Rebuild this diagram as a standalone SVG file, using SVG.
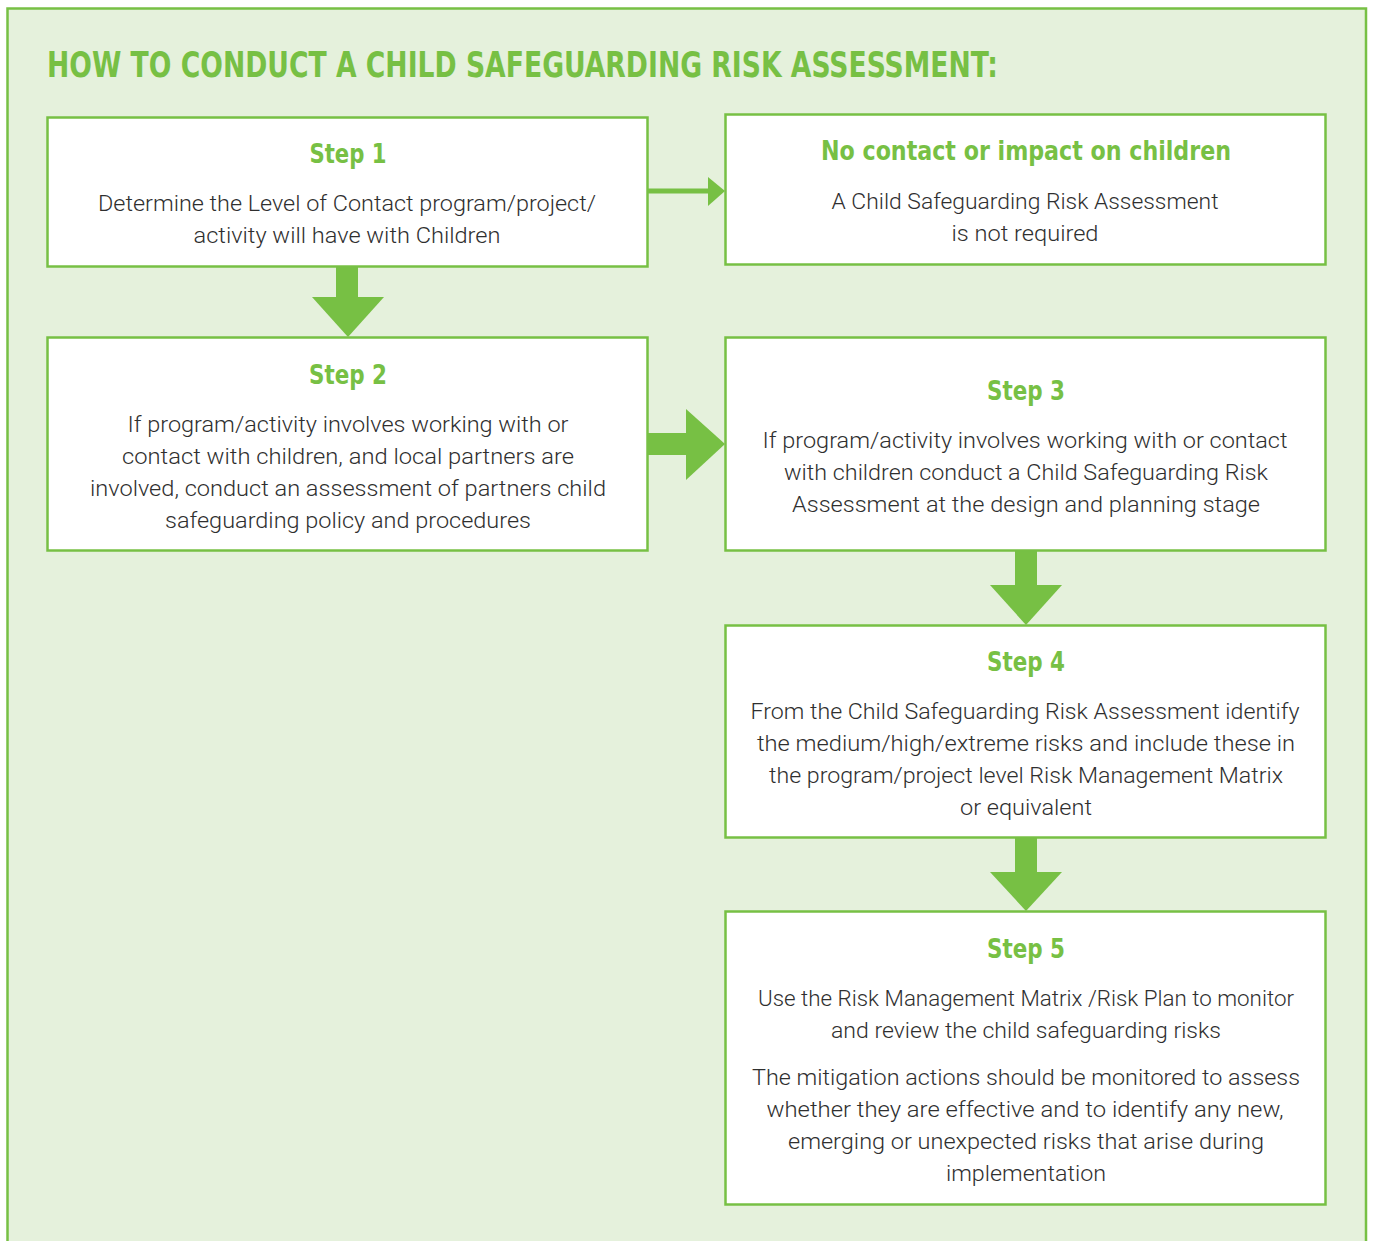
<svg xmlns="http://www.w3.org/2000/svg" width="1375" height="1241" viewBox="0 0 1375 1241">
<style>
.bg{fill:#e5f1dc}
.frame{fill:none;stroke:#77c044;stroke-width:2.5}
.box{fill:#ffffff;stroke:#77c044;stroke-width:2.5}
.arr{fill:#77c044}
.title{font-family:"DejaVu Sans Condensed","DejaVu Sans",sans-serif;font-weight:bold;font-size:35px;fill:#77c044}
.hd{font-family:"DejaVu Sans Condensed","DejaVu Sans",sans-serif;font-weight:bold;font-size:27px;fill:#77c044;text-anchor:middle}
.tx{font-family:Roboto,"Liberation Sans",sans-serif;font-weight:300;font-size:22px;fill:#2f2f2f;text-anchor:middle}
</style>
<rect x="0" y="0" width="1375" height="1241" fill="#ffffff"/>
<rect class="bg" x="7.5" y="8.5" width="1358.5" height="1233"/>
<path class="frame" d="M7.5 1242 V8.5 H1366 V1242"/>
<text class="title" x="47" y="77" textLength="951" lengthAdjust="spacingAndGlyphs">HOW TO CONDUCT A CHILD SAFEGUARDING RISK ASSESSMENT:</text>

<g id="connectors">
  <rect class="arr" x="648" y="188.5" width="62" height="5"/>
  <polygon class="arr" points="708,177 725,191 708,206"/>
  <rect class="arr" x="336" y="267" width="22" height="31"/>
  <polygon class="arr" points="312,297 384,297 348,337"/>
  <rect class="arr" x="648" y="433" width="40" height="22"/>
  <polygon class="arr" points="686,409 725,444 686,480"/>
  <rect class="arr" x="1015" y="551" width="22" height="35"/>
  <polygon class="arr" points="990,585 1062,585 1026,625"/>
  <rect class="arr" x="1015" y="838" width="22" height="35"/>
  <polygon class="arr" points="990,872 1062,872 1026,911"/>
</g>

<g id="step1">
  <rect class="box" x="47.5" y="117.5" width="600" height="149"/>
  <text class="hd" x="348" y="163" textLength="77" lengthAdjust="spacingAndGlyphs">Step 1</text>
  <text class="tx" x="347" y="211" textLength="498" lengthAdjust="spacingAndGlyphs">Determine the Level of Contact program/project/</text>
  <text class="tx" x="347" y="243" textLength="307" lengthAdjust="spacingAndGlyphs">activity will have with Children</text>
</g>

<g id="no-contact">
  <rect class="box" x="725.5" y="114.5" width="600" height="150"/>
  <text class="hd" x="1026" y="160" textLength="410" lengthAdjust="spacingAndGlyphs">No contact or impact on children</text>
  <text class="tx" x="1025" y="209" textLength="387" lengthAdjust="spacingAndGlyphs">A Child Safeguarding Risk Assessment</text>
  <text class="tx" x="1025" y="241" textLength="147" lengthAdjust="spacingAndGlyphs">is not required</text>
</g>

<g id="step2">
  <rect class="box" x="47.5" y="337.5" width="600" height="213"/>
  <text class="hd" x="348" y="384" textLength="78" lengthAdjust="spacingAndGlyphs">Step 2</text>
  <text class="tx" x="348" y="432" textLength="441" lengthAdjust="spacingAndGlyphs">If program/activity involves working with or</text>
  <text class="tx" x="348" y="464" textLength="452" lengthAdjust="spacingAndGlyphs">contact with children, and local partners are</text>
  <text class="tx" x="348" y="496" textLength="516" lengthAdjust="spacingAndGlyphs">involved, conduct an assessment of partners child</text>
  <text class="tx" x="348" y="528" textLength="366" lengthAdjust="spacingAndGlyphs">safeguarding policy and procedures</text>
</g>

<g id="step3">
  <rect class="box" x="725.5" y="337.5" width="600" height="213"/>
  <text class="hd" x="1026" y="400" textLength="78" lengthAdjust="spacingAndGlyphs">Step 3</text>
  <text class="tx" x="1025" y="448" textLength="525" lengthAdjust="spacingAndGlyphs">If program/activity involves working with or contact</text>
  <text class="tx" x="1026" y="480" textLength="484" lengthAdjust="spacingAndGlyphs">with children conduct a Child Safeguarding Risk</text>
  <text class="tx" x="1026" y="512" textLength="468" lengthAdjust="spacingAndGlyphs">Assessment at the design and planning stage</text>
</g>

<g id="step4">
  <rect class="box" x="725.5" y="625.5" width="600" height="212"/>
  <text class="hd" x="1026" y="671" textLength="78" lengthAdjust="spacingAndGlyphs">Step 4</text>
  <text class="tx" x="1025" y="719" textLength="549" lengthAdjust="spacingAndGlyphs">From the Child Safeguarding Risk Assessment identify</text>
  <text class="tx" x="1026" y="751" textLength="538" lengthAdjust="spacingAndGlyphs">the medium/high/extreme risks and include these in</text>
  <text class="tx" x="1026" y="783" textLength="514" lengthAdjust="spacingAndGlyphs">the program/project level Risk Management Matrix</text>
  <text class="tx" x="1026" y="815" textLength="132" lengthAdjust="spacingAndGlyphs">or equivalent</text>
</g>

<g id="step5">
  <rect class="box" x="725.5" y="911.5" width="600" height="293"/>
  <text class="hd" x="1026" y="958" textLength="78" lengthAdjust="spacingAndGlyphs">Step 5</text>
  <text class="tx" x="1026" y="1006" textLength="536" lengthAdjust="spacingAndGlyphs">Use the Risk Management Matrix /Risk Plan to monitor</text>
  <text class="tx" x="1026" y="1038" textLength="390" lengthAdjust="spacingAndGlyphs">and review the child safeguarding risks</text>
  <text class="tx" x="1026" y="1085" textLength="548" lengthAdjust="spacingAndGlyphs">The mitigation actions should be monitored to assess</text>
  <text class="tx" x="1025" y="1117" textLength="517" lengthAdjust="spacingAndGlyphs">whether they are effective and to identify any new,</text>
  <text class="tx" x="1026" y="1149" textLength="476" lengthAdjust="spacingAndGlyphs">emerging or unexpected risks that arise during</text>
  <text class="tx" x="1026" y="1181" textLength="160" lengthAdjust="spacingAndGlyphs">implementation</text>
</g>
</svg>
